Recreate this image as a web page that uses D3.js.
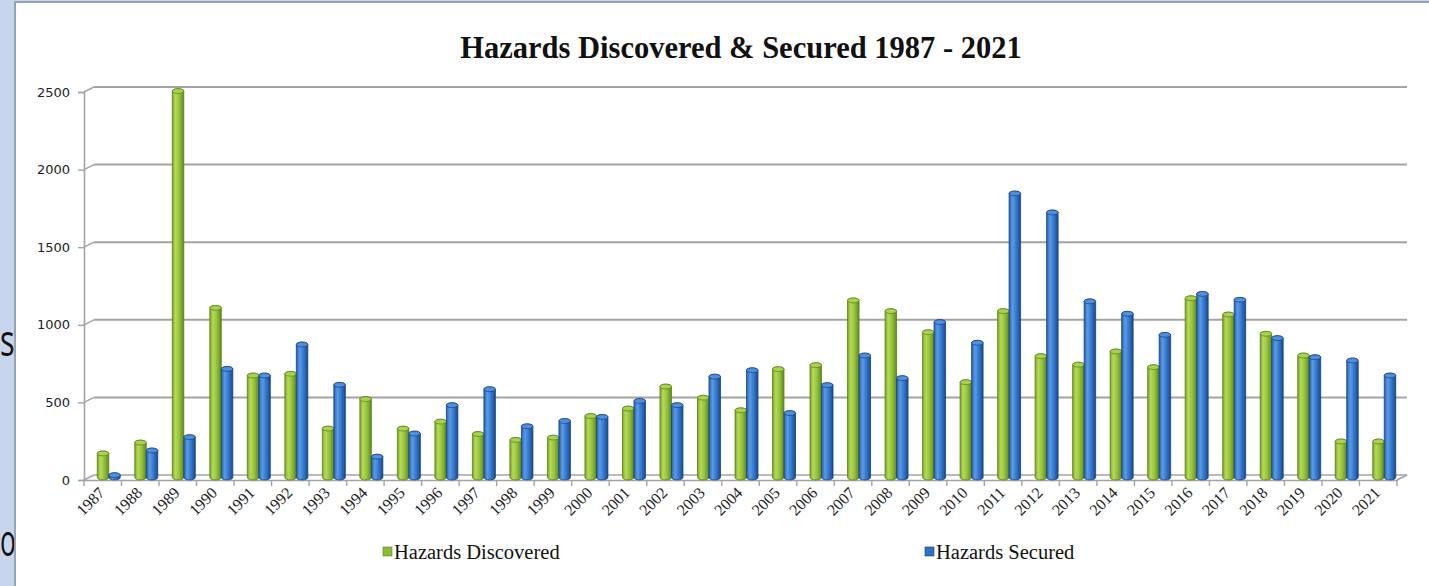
<!DOCTYPE html>
<html>
<head>
<meta charset="utf-8">
<script src="https://cdn.jsdelivr.net/npm/d3@7"></script>
<style>
  html, body { margin: 0; padding: 0; background: #ffffff; }
  svg { display: block; }
</style>
</head>
<body>
<svg id="chart" width="1429" height="586"></svg>
<script>
// Yearly counts of hazards discovered and secured
const years = ["1987","1988","1989","1990","1991","1992","1993","1994","1995","1996",
  "1997","1998","1999","2000","2001","2002","2003","2004","2005","2006",
  "2007","2008","2009","2010","2011","2012","2013","2014","2015","2016",
  "2017","2018","2019","2020","2021"];
const discovered = [155, 225, 2490, 1093, 657, 668, 315, 505, 315, 360,
  280, 242, 257, 396, 444, 586, 514, 433, 698, 724,
  1141, 1072, 936, 614, 1072, 782, 727, 812, 711, 1155,
  1050, 926, 786, 232, 232];
const secured = [15, 174, 260, 700, 657, 857, 597, 134, 283, 466,
  569, 330, 364, 390, 493, 466, 650, 691, 415, 595,
  786, 640, 1001, 868, 1830, 1708, 1135, 1055, 919, 1183,
  1145, 898, 775, 754, 657];
const seriesNames = ["Hazards Discovered", "Hazards Secured"];
const yTicks = [0, 500, 1000, 1500, 2000, 2500];

const svg = d3.select("#chart");
const W = 1429, H = 586;

// slide backdrop: blue strip with slide text peeking out beside the chart panel
svg.append("rect").attr("x", 0).attr("y", 0).attr("width", W).attr("height", H).attr("fill", "#c7d5ed");
svg.append("text").attr("transform", "translate(0,356) scale(0.7,1)")
  .attr("font-family", "Open Sans, sans-serif")
  .attr("font-size", 44).attr("fill", "#111").text("s");
svg.append("text").attr("transform", "translate(0,556) scale(0.6,1)")
  .attr("font-family", "Open Sans, sans-serif")
  .attr("font-size", 44).attr("fill", "#111").text("o");
svg.append("rect").attr("x", 14).attr("y", 1).attr("width", W - 14).attr("height", H - 1)
  .attr("fill", "#97a3b3");
svg.append("rect").attr("x", 16).attr("y", 3).attr("width", W - 16).attr("height", H - 3)
  .attr("fill", "#ffffff");

// gradients for the cylinder bars
const defs = svg.append("defs");
function gradient(id, stops) {
  const g = defs.append("linearGradient").attr("id", id)
    .attr("x1", "0%").attr("x2", "100%").attr("y1", "0%").attr("y2", "0%");
  stops.forEach(s => g.append("stop").attr("offset", s[0]).attr("stop-color", s[1]));
}
gradient("gGreen", [["0%", "#7da52a"], ["28%", "#b4da58"], ["60%", "#97c23c"], ["100%", "#5e8a1c"]]);
gradient("gBlue", [["0%", "#2660ad"], ["30%", "#5b9be6"], ["62%", "#3479cf"], ["100%", "#1a4a8c"]]);
const fills = ["url(#gGreen)", "url(#gBlue)"];
const strokes = ["#587f18", "#1a4178"];
const capFills = ["#a9d24e", "#4f8fe0"];
const legendFills = ["#8dbb34", "#2f6fc4"];

// geometry: front floor edge and depth offset of the back wall
const x0 = 84, x1 = 1397, yFront = 480;
const depthX = 10, depthY = -5;
const plotH = 388;

const x = d3.scaleBand().domain(years).range([x0, x1]).paddingInner(0).paddingOuter(0);
const yFrontScale = d3.scaleLinear().domain([0, 2500]).range([yFront, yFront - plotH]);
const yBack = d3.scaleLinear().domain([0, 2500]).range([yFront + depthY, yFront + depthY - plotH]);
const yBar = d3.scaleLinear().domain([0, 2500]).range([yFront + depthY / 2, yFront + depthY / 2 - plotH]);
const inner = d3.scaleBand().domain([0, 1]).range([0, 23]);
const barShift = x.bandwidth() / 2 - 11.5 + 6;

const grid = svg.append("g");
// back-wall gridlines with the diagonal connector to the front axis
yTicks.forEach(t => {
  if (t > 0) {
    grid.append("line").attr("x1", x0 + depthX).attr("x2", x1 + depthX)
      .attr("y1", yBack(t)).attr("y2", yBack(t))
      .attr("stroke", "#a3a3a3").attr("stroke-width", 2);
  }
  grid.append("line").attr("x1", x0).attr("y1", yFrontScale(t))
    .attr("x2", x0 + depthX).attr("y2", yBack(t))
    .attr("stroke", "#a3a3a3").attr("stroke-width", 1.5);
});

// floor
const floor = svg.append("g").attr("fill", "none").attr("stroke", "#a3a3a3").attr("stroke-width", 1.6);
floor.append("line").attr("x1", x0 + depthX).attr("x2", x1 + depthX)
  .attr("y1", yBack(0)).attr("y2", yBack(0));
floor.append("line").attr("x1", x1).attr("y1", yFront).attr("x2", x1 + depthX).attr("y2", yBack(0));

// value axis on the front edge
const yAxis = d3.axisLeft(yFrontScale).tickValues(yTicks).tickSize(6).tickPadding(8).tickFormat(d3.format("d"));
const yG = svg.append("g").attr("transform", `translate(${x0},0)`).call(yAxis);
yG.select(".domain").attr("stroke", "#a3a3a3").attr("stroke-width", 1.6);
yG.selectAll(".tick line").attr("stroke", "#a3a3a3").attr("stroke-width", 1.4);
yG.selectAll(".tick text").attr("font-family", "DejaVu Sans, sans-serif")
  .attr("font-size", 13).attr("fill", "#222");

// category axis on the front edge
const xAxis = d3.axisBottom(x).tickSize(0).tickPadding(0);
const xG = svg.append("g").attr("transform", `translate(0,${yFront})`).call(xAxis);
xG.select(".domain").attr("stroke", "#a3a3a3").attr("stroke-width", 1.6);
xG.selectAll(".tick text")
  .attr("font-family", "Liberation Serif, Times New Roman, serif")
  .attr("font-size", 16).attr("fill", "#222")
  .attr("text-anchor", "end")
  .attr("transform", "translate(-1,10) rotate(-45)")
  .attr("dy", "0.35em");
// boundary ticks between categories
svg.append("g").selectAll("line").data(years.concat(["end"])).join("line")
  .attr("x1", (d, i) => x0 + i * x.bandwidth()).attr("x2", (d, i) => x0 + i * x.bandwidth())
  .attr("y1", yFront).attr("y2", yFront + 6)
  .attr("stroke", "#a3a3a3").attr("stroke-width", 1.4);

// cylinders
function cylinder(bx, w, yTop, yBot, ry) {
  return `M${bx},${yTop} L${bx},${yBot} A${w / 2},${ry} 0 0 0 ${bx + w},${yBot} ` +
    `L${bx + w},${yTop} A${w / 2},${ry} 0 0 0 ${bx},${yTop} Z`;
}
const series = [discovered, secured];
const barsG = svg.append("g");
years.forEach((yr, i) => {
  series.forEach((vals, s) => {
    const bw = inner.bandwidth();
    const bx = x(yr) + barShift + inner(s);
    const yb = yBar(0);
    const yt = Math.min(yBar(vals[i]), yb - 1);
    barsG.append("path").attr("d", cylinder(bx, bw, yt, yb, 2.4))
      .attr("fill", fills[s]).attr("stroke", strokes[s]).attr("stroke-width", 0.8);
    barsG.append("ellipse").attr("cx", bx + bw / 2).attr("cy", yt)
      .attr("rx", bw / 2).attr("ry", 2.4)
      .attr("fill", capFills[s]).attr("stroke", strokes[s]).attr("stroke-width", 0.7);
  });
});

// title
svg.append("text").attr("x", 741).attr("y", 58).attr("text-anchor", "middle")
  .attr("font-family", "Liberation Serif, Times New Roman, serif")
  .attr("font-weight", "bold").attr("font-size", 30.5).attr("fill", "#111")
  .text("Hazards Discovered & Secured 1987 - 2021");

// legend
const legendX = [383, 925];
seriesNames.forEach((name, s) => {
  const g = svg.append("g").attr("transform", `translate(${legendX[s]},552)`);
  g.append("rect").attr("x", 0).attr("y", -5).attr("width", 9).attr("height", 9)
    .attr("fill", legendFills[s]).attr("stroke", strokes[s]).attr("stroke-width", 0.6);
  g.append("text").attr("x", 11).attr("y", 7)
    .attr("font-family", "Liberation Serif, Times New Roman, serif")
    .attr("font-size", 20.5).attr("fill", "#111").text(name);
});
</script>
</body>
</html>
